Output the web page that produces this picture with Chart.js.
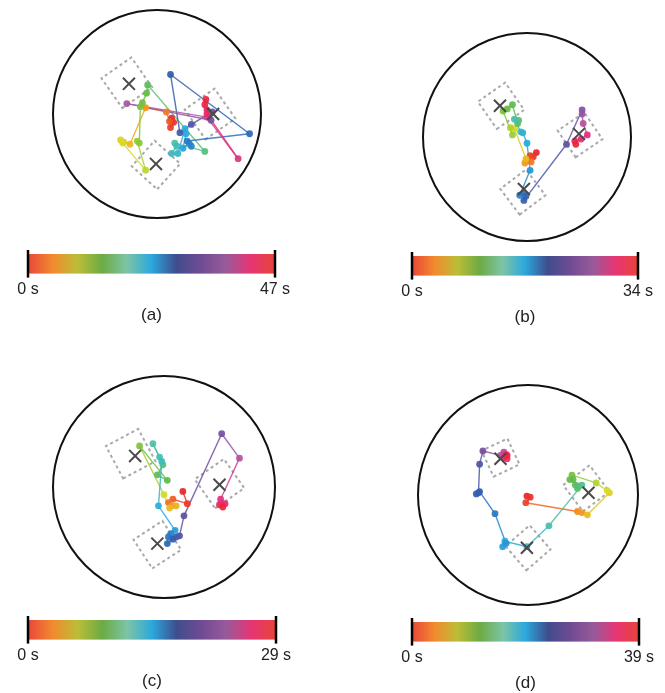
<!DOCTYPE html>
<html>
<head>
<meta charset="utf-8">
<script src="https://cdn.jsdelivr.net/npm/chart.js@4.4.1/dist/chart.umd.min.js"></script>
<style>
  body { margin: 0; background: #fff; }
  #page { position: relative; width: 665px; height: 693px; overflow: hidden; }
  #page canvas { position: absolute; }
</style>
</head>
<body>
<div id="page"></div>
<script>
// time colour map of the bars (red -> orange -> green -> blue -> purple -> pink -> red)
const cmap = ['#e9473a', '#f28a2e', '#bcbd37', '#6cab43', '#7dc4a6', '#2ba8dd',
              '#3f4d8d', '#704b93', '#985a9a', '#e63574', '#e9433a'];
// same map as it shows on the dots, more saturated
const dotCmap = ['#e8262c', '#f7941d', '#d7df23', '#62bb46', '#4cc1a8', '#27aae1',
                 '#2e5fb0', '#6a4fa0', '#b058a5', '#ec2a7b', '#e8262c'];

const durations = [47, 34, 29, 39];
const captions = ['(a)', '(b)', '(c)', '(d)'];
const barTicks = [['0 s', '47 s'], ['0 s', '34 s'], ['0 s', '29 s'], ['0 s', '39 s']];

// trajectories, arena units (arena radius = 100), t in seconds
const trackAx = [14,16,13,12,9,-11,-26,-32,-35,-33,-11,-19,-17,-16,-14,-10,-9,46,17,19,14,20,27,28,25,31,33,29,89,13,22,33,53,50,52,-29,48,78,48,48,46,47];
const trackAy = [-4,-8,-13,-7,2,6,-29,-27,-25,-28,-54,-26,-28,7,11,20,28,-36,-28,-31,-38,-38,-14,-19,-33,-28,-31,-26,-19,38,-18,-10,2,-2,-6,10,-3,-43,0,4,9,14];
const trackAt = [0,0.5,1,2,3.5,5,7,8,8.5,9,10.5,12,12.5,13,13.5,14,15,17,19,20,20.5,21,23,23.5,24,25.5,26,26.5,27.5,28.5,29.5,31,32,33,34,37,39,41,43,44,45,46];

const trackBx = [9,6,3,4,-2,-1,-12,-16,-14,-23,-19,-14,-9,-8,-12,-6,-4,0,3,-7,-3,-1,-3,38,53,53,54,58,52,46,47];
const trackBy = [-15,-19,-18,-24,-25,-21,8,9,2,25,27,31,13,16,17,5,4,-6,-32,-56,-54,-57,-61,-7,26,22,13,2,-2,-4,-7];
const trackBt = [0,0.5,1,2.5,3.5,5,7,8,8.5,9.5,10,10.5,11,12,14,15,16,17,18,19,19.5,20,21,23,25,26,27.5,30,31,32.5,33.5];

const trackCx = [17,21,8,4,7,11,5,0,-22,3,-6,-1,-10,-4,-2,-5,10,6,4,3,8,11,14,18,52,68,51,55,50,53];
const trackCy = [-4,-15,-11,-14,-17,-17,-19,-7,37,6,11,20,39,27,23,-17,-39,-42,-45,-51,-47,-45,-44,-26,48,26,-11,-15,-16,-18];
const trackCt = [0,0.5,1.5,2,3,4,4.5,6,8,9,9.5,10.5,11.5,12,12.5,14,15,16,16.5,17,17.5,18,19,20,21,23.5,25.5,26.5,27.5,28.5];

const trackDx = [-1,2,-2,45,49,54,74,72,62,40,38,41,43,45,46,49,19,-1,-21,-23,-20,-30,-44,-47,-45,-44,-41,-25,-22,-20,-19,-22,-19];
const trackDy = [-1,-2,-7,-15,-16,-18,2,4,11,18,14,14,9,6,8,9,-28,-47,-42,-47,-44,-17,3,1,2,28,40,36,39,37,33,34,36];
const trackDt = [0,0.5,1,3.5,4,6,7,7.5,9,11,11.5,12,12.5,13,13.5,14.5,16,18,19.5,20,20.5,22,23,23.5,24,25.5,28,31,33,34.5,35.5,36.5,38];

// cross marks
const marksAx = [-27, 54, -1], marksAy = [29, 0, -48];
const marksBx = [-26, 50, -3], marksBy = [30, 3, -50];
const marksCx = [-26, 50, -6], marksCy = [28, 2, -51];
const marksDx = [-25, 55, -1], marksDy = [33, 2, -48];

// dashed boxes: centre x, centre y, side, rotation (deg)
const boxesA = [[-29, 30, 35, 35], [51, 0, 35, 35], [-1, -49, 33, 48]];
const boxesB = [[-25, 30, 32, 35], [51, 2, 31, 34], [-4, -53, 31, 37]];
const boxesC = [[-30, 30, 33, 28], [50, 3, 32, 35], [-6, -52, 31, 33]];
const boxesD = [[-25, 34, 26, 25], [53, 6, 30, 37], [0, -48, 29, 41]];

const FONT = '"Liberation Sans", Arial, sans-serif';

// page geometry: arena centre/radius, colour bar left/right/top
const layoutPx = [
  {arena: [157, 114, 104], bar: [28, 275, 254]},
  {arena: [527, 137, 104], bar: [412, 638, 256]},
  {arena: [164, 487, 111], bar: [28, 276, 620]},
  {arena: [528, 495, 110], bar: [412, 639, 622]}
];

const tracks = [
  [trackAx, trackAy, trackAt], [trackBx, trackBy, trackBt],
  [trackCx, trackCy, trackCt], [trackDx, trackDy, trackDt]
];
const marks = [[marksAx, marksAy], [marksBx, marksBy], [marksCx, marksCy], [marksDx, marksDy]];
const boxes = [boxesA, boxesB, boxesC, boxesD];

const toRgb = h => [1, 3, 5].map(i => parseInt(h.substr(i, 2), 16));
const dotRgb = dotCmap.map(toRgb);
function colourAt(f, alpha) {
  f = Math.min(1, Math.max(0, f));
  const p = f * (dotRgb.length - 1);
  const i = Math.min(Math.floor(p), dotRgb.length - 2);
  const k = p - i;
  const c = [0, 1, 2].map(j => Math.round(dotRgb[i][j] + (dotRgb[i + 1][j] - dotRgb[i][j]) * k));
  return `rgba(${c[0]},${c[1]},${c[2]},${alpha})`;
}

const arenaPlugin = {
  id: 'arena',
  beforeDatasetsDraw(chart, args, opts) {
    const {ctx, scales: {x, y}} = chart;
    const cx = x.getPixelForValue(0), cy = y.getPixelForValue(0);
    const r = x.getPixelForValue(100) - cx;
    ctx.save();
    ctx.strokeStyle = '#111';
    ctx.lineWidth = 2;
    ctx.beginPath();
    ctx.arc(cx, cy, r, 0, Math.PI * 2);
    ctx.stroke();

    ctx.strokeStyle = '#a9a9a9';
    ctx.lineWidth = 2;
    ctx.setLineDash([3, 3]);
    opts.boxes.forEach(([bx, by, side, ang]) => {
      const a = ang * Math.PI / 180, h = side / 2;
      const cs = Math.cos(a), sn = Math.sin(a);
      ctx.beginPath();
      [[-h, -h], [h, -h], [h, h], [-h, h]].forEach(([u, v], i) => {
        const px = x.getPixelForValue(bx + u * cs - v * sn);
        const py = y.getPixelForValue(by + u * sn + v * cs);
        if (i) ctx.lineTo(px, py); else ctx.moveTo(px, py);
      });
      ctx.closePath();
      ctx.stroke();
    });
    ctx.restore();
  }
};

const barPlugin = {
  id: 'timebar',
  beforeDatasetsDraw(chart) {
    const {ctx, chartArea: a, scales: {x}} = chart;
    const g = ctx.createLinearGradient(a.left, 0, a.right, 0);
    cmap.forEach((c, i) => g.addColorStop(i / (cmap.length - 1), c));
    ctx.save();
    ctx.fillStyle = g;
    ctx.fillRect(a.left, a.top, a.width, a.height);
    ctx.strokeStyle = '#000';
    ctx.lineWidth = 2.5;
    [x.min, x.max].forEach(v => {
      const px = x.getPixelForValue(v);
      ctx.beginPath();
      ctx.moveTo(px, a.top - 4);
      ctx.lineTo(px, a.bottom + 4);
      ctx.stroke();
    });
    ctx.restore();
  }
};

const page = document.getElementById('page');
function addCanvas(left, top, w, h) {
  const c = document.createElement('canvas');
  c.width = w; c.height = h;
  c.style.left = left + 'px'; c.style.top = top + 'px';
  c.style.width = w + 'px'; c.style.height = h + 'px';
  page.appendChild(c);
  return c;
}

for (let k = 0; k < 4; k++) {
  const [cx, cy, r] = layoutPx[k].arena;
  const half = Math.round(r * 1.1);
  const lim = half / r * 100;
  const [xs, ys, ts] = tracks[k];
  const dur = durations[k];
  const pts = xs.map((v, i) => ({x: v, y: ys[i]}));

  new Chart(addCanvas(cx - half, cy - half, half * 2, half * 2), {
    type: 'scatter',
    data: {
      datasets: [
        {
          data: marks[k][0].map((v, i) => ({x: v, y: marks[k][1][i]})),
          pointStyle: 'crossRot',
          pointRadius: 8.5,
          borderColor: '#4a4a4a',
          borderWidth: 2,
          showLine: false
        },
        {
          data: pts,
          showLine: true,
          borderWidth: 1.4,
          pointRadius: 3.4,
          pointBorderWidth: 0,
          pointBackgroundColor: ts.map(t => colourAt(t / dur, 0.93)),
          segment: {
            borderColor: c => colourAt((ts[c.p0DataIndex] + ts[c.p1DataIndex]) / 2 / dur, 0.85)
          }
        }
      ]
    },
    options: {
      responsive: false,
      animation: false,
      devicePixelRatio: 1,
      layout: {padding: 0, autoPadding: false},
      scales: {
        x: {type: 'linear', min: -lim, max: lim, display: false},
        y: {type: 'linear', min: -lim, max: lim, display: false}
      },
      plugins: {
        legend: {display: false},
        tooltip: {enabled: false},
        arena: {boxes: boxes[k]}
      }
    },
    plugins: [arenaPlugin]
  });

  const [xl, xr, bt] = layoutPx[k].bar;
  new Chart(addCanvas(xl - 22, bt - 8, xr - xl + 44, 82), {
    type: 'scatter',
    data: {datasets: [{data: []}]},
    options: {
      responsive: false,
      animation: false,
      devicePixelRatio: 1,
      layout: {padding: {left: 22, right: 22, top: 8, bottom: 2.8}, autoPadding: false},
      scales: {
        x: {
          type: 'linear', min: 0, max: dur,
          afterBuildTicks: s => { s.ticks = [{value: 0}, {value: dur}]; },
          grid: {display: false, drawTicks: false},
          border: {display: false},
          ticks: {
            callback: (v, i) => barTicks[k][i],
            padding: 6, maxRotation: 0, autoSkip: false,
            color: '#222', font: {family: FONT, size: 16}
          }
        },
        y: {display: false}
      },
      plugins: {
        legend: {display: false},
        tooltip: {enabled: false},
        title: {
          display: true, position: 'bottom', text: captions[k],
          color: '#222', font: {family: FONT, size: 17, weight: 'normal'},
          padding: {top: 0, bottom: 0}
        }
      }
    },
    plugins: [barPlugin]
  });
}
</script>
</body>
</html>
